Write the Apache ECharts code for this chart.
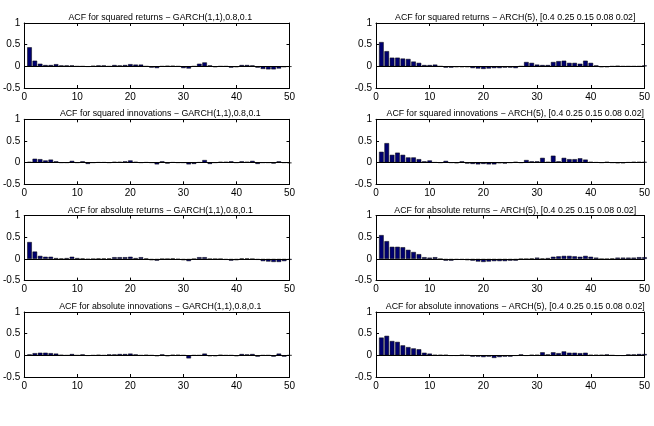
<!DOCTYPE html>
<html>
<head>
<meta charset="utf-8">
<script src="https://cdn.jsdelivr.net/npm/echarts@6/dist/echarts.min.js"></script>
<style>
html,body{margin:0;padding:0;background:#fff;}
#c{width:654px;height:426px;}
</style>
</head>
<body>
<div id="c"></div>
<script>
const lags = [1,2,3,4,5,6,7,8,9,10,11,12,13,14,15,16,17,18,19,20,21,22,23,24,25,26,27,28,29,30,31,32,33,34,35,36,37,38,39,40,41,42,43,44,45,46,47,48,49,50];
const xTicks = {min: 0, max: 50, step: 10};
const yTicks = {min: -0.5, max: 1, step: 0.5};

const titles = [
  "ACF for squared returns \u2212 GARCH(1,1),0.8,0.1",
  "ACF for squared returns \u2212 ARCH(5), [0.4 0.25 0.15 0.08 0.02]",
  "ACF for squared innovations \u2212 GARCH(1,1),0.8,0.1",
  "ACF for squared innovations \u2212 ARCH(5), [0.4 0.25 0.15 0.08 0.02]",
  "ACF for absolute returns \u2212 GARCH(1,1),0.8,0.1",
  "ACF for absolute returns \u2212 ARCH(5), [0.4 0.25 0.15 0.08 0.02]",
  "ACF for absolute innovations \u2212 GARCH(1,1),0.8,0.1",
  "ACF for absolute innovations \u2212 ARCH(5), [0.4 0.25 0.15 0.08 0.02]"
];

const sqRetGarch = [0.44,0.13,0.06,0.03,0.03,0.05,0.02,0.02,0.02,0.00,0.00,-0.01,0.01,0.02,0.02,0.00,0.03,0.02,0.03,0.05,0.04,0.04,0.00,-0.03,-0.04,0.00,0.01,0.01,0.00,-0.04,-0.05,0.00,0.06,0.09,0.02,-0.02,0.00,0.00,-0.03,-0.02,0.03,0.03,0.02,-0.03,-0.06,-0.07,-0.07,-0.05,-0.02,-0.01];
const sqRetArch = [0.56,0.35,0.20,0.20,0.18,0.17,0.11,0.08,0.03,0.03,0.04,0.00,-0.03,-0.03,-0.02,-0.02,-0.02,-0.04,-0.05,-0.06,-0.05,-0.04,-0.04,-0.03,-0.03,-0.04,0.00,0.10,0.08,0.04,0.03,0.03,0.10,0.12,0.13,0.08,0.08,0.06,0.13,0.08,0.02,-0.02,-0.02,0.00,0.01,0.00,0.00,0.00,0.00,0.02];
const sqInnGarch = [0.02,0.09,0.08,0.05,0.07,0.03,0.00,0.00,0.04,0.00,0.03,-0.03,0.00,0.01,0.01,0.00,0.02,0.02,0.03,0.05,0.02,0.00,0.01,0.00,-0.04,0.03,-0.02,0.01,0.00,0.00,-0.04,-0.03,0.01,0.06,-0.03,0.00,0.02,0.02,0.03,0.00,0.03,0.02,0.04,-0.03,0.00,0.00,-0.02,0.03,0.00,-0.01];
const sqInnArch = [0.25,0.45,0.18,0.23,0.18,0.12,0.12,0.08,0.03,0.05,0.01,0.00,0.04,0.00,-0.01,0.03,-0.02,-0.03,-0.04,-0.03,-0.04,-0.04,-0.01,-0.02,0.00,0.02,0.00,0.06,0.03,0.03,0.11,0.02,0.16,0.03,0.11,0.08,0.08,0.10,0.07,0.02,0.01,0.00,0.02,0.00,-0.01,-0.01,0.01,0.02,0.02,0.02];
const absRetGarch = [0.39,0.17,0.07,0.05,0.05,0.02,0.01,0.02,0.05,0.02,0.01,-0.01,0.00,0.01,0.01,0.01,0.04,0.04,0.04,0.05,0.02,0.04,0.01,-0.03,-0.04,0.00,0.00,0.01,-0.01,-0.03,-0.05,0.00,0.04,0.04,0.00,0.00,0.00,-0.02,-0.04,-0.03,0.01,0.01,0.00,-0.02,-0.05,-0.06,-0.07,-0.07,-0.05,-0.02];
const absRetArch = [0.55,0.41,0.28,0.28,0.27,0.21,0.16,0.11,0.04,0.03,0.04,0.00,-0.04,-0.04,-0.02,-0.02,-0.03,-0.04,-0.06,-0.07,-0.06,-0.05,-0.05,-0.05,-0.04,-0.04,0.00,0.00,0.01,0.03,0.01,0.02,0.05,0.06,0.07,0.07,0.06,0.05,0.07,0.05,0.03,0.00,0.00,0.01,0.03,0.03,0.03,0.03,0.04,0.04];
const absInnGarch = [0.02,0.05,0.06,0.06,0.05,0.04,0.01,0.00,0.03,0.00,0.02,-0.01,0.00,0.01,0.00,0.02,0.02,0.03,0.03,0.04,0.02,0.00,0.01,0.00,-0.02,0.02,-0.02,0.01,0.01,0.00,-0.07,0.00,0.00,0.04,-0.02,-0.02,0.01,0.00,0.00,-0.02,0.03,0.02,0.03,-0.03,0.00,0.00,-0.03,0.04,-0.03,0.00];
const absInnArch = [0.41,0.45,0.33,0.31,0.23,0.19,0.16,0.14,0.06,0.04,0.01,0.01,0.01,-0.01,-0.01,0.01,0.00,-0.03,-0.03,-0.04,-0.03,-0.06,-0.04,-0.03,-0.03,-0.01,0.02,-0.01,0.01,0.01,0.07,0.02,0.07,0.05,0.09,0.06,0.06,0.05,0.06,0.01,0.01,0.01,0.02,0.00,-0.01,-0.01,0.02,0.02,0.03,0.03];

const panels = [sqRetGarch, sqRetArch, sqInnGarch, sqInnArch, absRetGarch, absRetArch, absInnGarch, absInnArch];

const colLeft = [21, 376];
const plotW = 268.5;
const rowTop = [23, 119.3, 215.6, 312];
const plotH = 65;
const FONT = '"Liberation Sans", Arial, Helvetica, sans-serif';

const grid = [], xAxis = [], yAxis = [], series = [], title = [];
panels.forEach((vals, i) => {
  const r = Math.floor(i / 2), c = i % 2;
  grid.push({left: colLeft[c], top: rowTop[r], width: plotW, height: plotH, containLabel: false});
  const axLine = {show: true, onZero: false, lineStyle: {color: '#000', width: 1}};
  const tick = {show: true, inside: true, length: 3, lineStyle: {color: '#000'}};
  const xBase = {type: 'value', gridIndex: i, min: xTicks.min, max: xTicks.max, interval: xTicks.step,
    axisLine: axLine, axisTick: tick, splitLine: {show: false}};
  xAxis.push(Object.assign({}, xBase, {position: 'bottom',
    axisLabel: {show: true, color: '#000', fontSize: 10, fontFamily: FONT, margin: 4}}));
  xAxis.push(Object.assign({}, xBase, {position: 'top', axisLabel: {show: false}}));
  const yBase = {type: 'value', gridIndex: i, min: yTicks.min, max: yTicks.max, interval: yTicks.step,
    axisLine: axLine, axisTick: tick, splitLine: {show: false}};
  yAxis.push(Object.assign({}, yBase, {position: 'left',
    axisLabel: {show: true, color: '#000', fontSize: 10, fontFamily: FONT, margin: 4}}));
  yAxis.push(Object.assign({}, yBase, {position: 'right', axisLabel: {show: false}}));
  series.push({
    type: 'bar', xAxisIndex: 2 * i, yAxisIndex: 2 * i,
    data: lags.map((l, k) => [l, vals[k]]),
    barWidth: '86%',
    itemStyle: {color: '#000070', borderColor: '#000', borderWidth: 0.5},
    markLine: {silent: true, symbol: 'none', animation: false,
      lineStyle: {color: '#000', width: 1, type: 'solid'}, label: {show: false},
      data: [{yAxis: 0}]}
  });
  title.push({text: titles[i], left: colLeft[c] + plotW / 2, top: rowTop[r] - 15, textAlign: 'center',
    textStyle: {fontSize: 8.8, fontWeight: 'normal', color: '#000', fontFamily: FONT}});
});

const chart = echarts.init(document.getElementById('c'), null, {renderer: 'canvas'});
chart.setOption({animation: false, backgroundColor: '#fff', title, grid, xAxis, yAxis, series});
</script>
</body>
</html>
